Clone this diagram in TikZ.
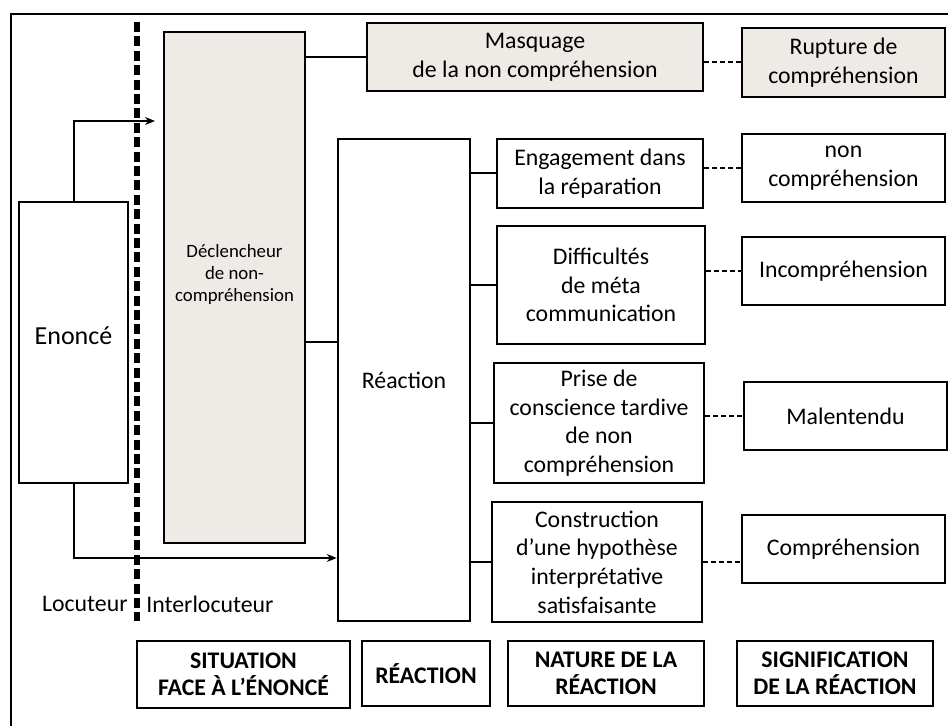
\documentclass[tikz,border=0pt]{standalone}
\usepackage{fontspec}
\setmainfont{Carlito}
\usetikzlibrary{arrows.meta}

\definecolor{boxgrey}{RGB}{238,234,229}

\tikzset{
  sz/.style 2 args={minimum width=#1*0.5pt, minimum height=#2*0.5pt},
  box/.style={draw, line width=1.25pt, align=center, inner sep=2pt,
    font=\fontsize{11.9}{14.3}\selectfont},
  greybox/.style={box, fill=boxgrey},
  headbox/.style={box, font=\fontsize{11.9}{13.6}\selectfont\bfseries},
  lbl/.style={inner sep=0pt, font=\fontsize{11.9}{14.3}\selectfont},
  link/.style={line width=1pt},
  dlink/.style={line width=1pt, dash pattern=on 2.6pt off 1.4pt},
  arr/.style={line width=1pt, -{Stealth[length=5pt,width=4pt]}},
}

\begin{document}
\begin{tikzpicture}[x=0.5pt, y=-0.5pt] %Situation face à l'énoncé
    \useasboundingbox (0,0) rectangle (948,726);

    % cadre et séparation locuteur / interlocuteur
    \draw[line width=1.4pt] (11,726) -- (11,14) -- (948,14);
    \draw[line width=3pt, dash pattern=on 5pt off 2.2pt] (137,22) -- (137,621);

    \node[box, sz={109}{281}, text depth=7pt, font=\fontsize{13}{15}\selectfont] (enonce) at (73.5,342.5) {Enoncé};
    \node[greybox, sz={141}{511},
      label={[align=center, yshift=6.5pt, font=\fontsize{9.4}{10.8}\selectfont]center:Déclencheur\\de non-\\compréhension}]
      (decl) at (234.5,287.5) {};
    \node[box, sz={132}{482}] (reac) at (404,380) {Réaction};

    % nature de la réaction
    \node[greybox, sz={336}{68}] (masq) at (535,57) {Masquage\\de la non compréhension};
    \node[box, sz={206}{69}] (eng) at (600,173.5) {Engagement dans\\la réparation};
    \node[box, sz={208}{118}] (diff) at (601,285) {Difficultés\\de méta\\communication};
    \node[box, sz={210}{120}] (prise) at (599,423) {Prise de\\conscience tardive\\de non\\compréhension};
    \node[box, sz={210}{120}] (constr) at (597,562) {Construction\\d’une hypothèse\\interprétative\\satisfaisante};

    % signification
    \node[greybox, sz={203}{69}] (rupt) at (843.5,62.5) {Rupture de\\compréhension};
    \node[box, sz={203}{68}] (nonc) at (843.5,168) {non\\compréhension};
    \node[box, sz={203}{68}] (incomp) at (843.5,271) {Incompréhension};
    \node[box, sz={203}{68}] (malent) at (845.5,416) {Malentendu};
    \node[box, sz={203}{68}] (compr) at (843.5,549) {Compréhension};

    % titres des colonnes
    \node[headbox, sz={213}{67}] (sith) at (243.5,674.5) {SITUATION\\FACE À L’ÉNONCÉ};
    \node[headbox, sz={128}{65}] (reach) at (426,673.5) {RÉACTION};
    \node[headbox, sz={196}{65}] (nath) at (606,673.5) {NATURE DE LA\\RÉACTION};
    \node[headbox, sz={196}{65}] (sigh) at (835,673.5) {SIGNIFICATION\\DE LA RÉACTION};

    \node[lbl, anchor=east] (loc) at (128,604) {Locuteur};
    \node[lbl, anchor=west] (interloc) at (146,604) {Interlocuteur};

    % flèches depuis l'énoncé
    \coordinate (top) at (155,121);
    \coordinate (lowy) at (0,558);
    \draw[arr] (enonce.north) |- (top);
    \draw[arr] (enonce.south) |- (reac.west |- lowy);

    % liaisons
    \draw[link] (decl.east |- masq.west) -- (masq.west);
    \draw[link] (decl.east |- enonce.east) -- (reac.west |- enonce.east);
    \foreach \n in {eng,diff,prise,constr}
        \draw[link] (reac.east |- \n.west) -- (\n.west);

    \draw[dlink] (masq.east |- rupt.west) -- (rupt.west);
    \draw[dlink] (eng.east |- nonc.west) -- (nonc.west);
    \draw[dlink] (diff.east |- incomp.west) -- (incomp.west);
    \draw[dlink] (prise.east |- malent.west) -- (malent.west);
    \draw[dlink] (constr.east) -- (compr.west |- constr.east);
\end{tikzpicture}
\end{document}
